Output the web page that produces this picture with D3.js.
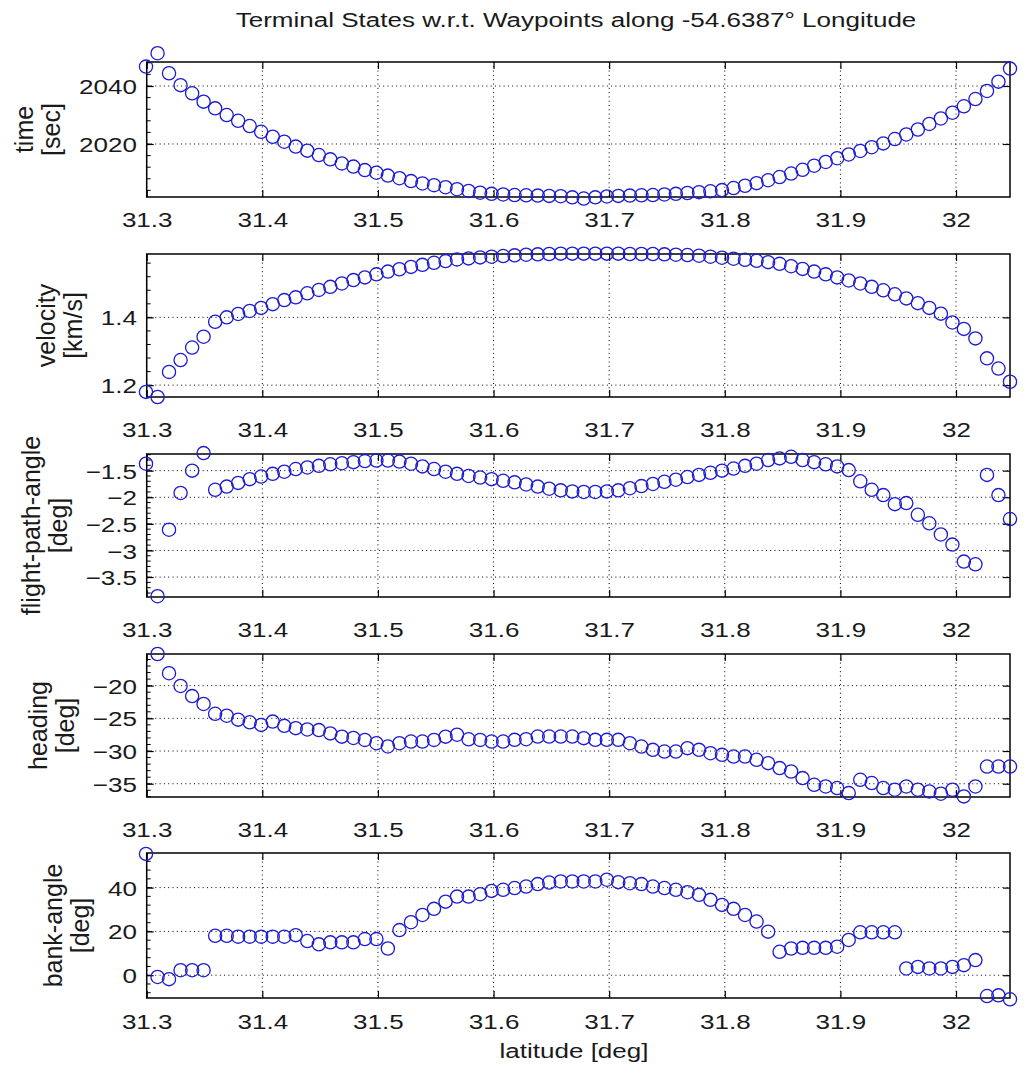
<!DOCTYPE html>
<html>
<head>
<meta charset="utf-8">
<script src="https://cdn.jsdelivr.net/npm/d3@7"></script>
<style>
  body { margin: 0; background: #fff; }
  text { font-family: "Liberation Sans", Arial, sans-serif; fill: #1a1a1a; }
</style>
</head>
<body>
<svg id="chart" width="1024" height="1072"></svg>
<script>
// waypoint latitudes [deg]
const latitude = [
  31.2994, 31.3094, 31.3193, 31.3293, 31.3393, 31.3492, 31.3592, 31.3692, 31.3791, 31.3891,
  31.3990, 31.4090, 31.4190, 31.4289, 31.4389, 31.4489, 31.4588, 31.4688, 31.4788, 31.4887,
  31.4987, 31.5086, 31.5186, 31.5286, 31.5385, 31.5485, 31.5585, 31.5684, 31.5784, 31.5884,
  31.5983, 31.6083, 31.6182, 31.6282, 31.6382, 31.6481, 31.6581, 31.6681, 31.6780, 31.6880,
  31.6980, 31.7079, 31.7179, 31.7279, 31.7378, 31.7478, 31.7577, 31.7677, 31.7777, 31.7876,
  31.7976, 31.8076, 31.8175, 31.8275, 31.8375, 31.8474, 31.8574, 31.8673, 31.8773, 31.8873,
  31.8972, 31.9072, 31.9172, 31.9271, 31.9371, 31.9471, 31.9570, 31.9670, 31.9769, 31.9869,
  31.9969, 32.0068, 32.0168, 32.0268, 32.0367, 32.0467
];

const timeSec = [
  2046.7, 2051.3, 2044.4, 2040.3, 2037.5, 2034.6, 2032.3, 2030.0, 2028.0, 2026.2,
  2024.2, 2022.5, 2020.8, 2019.1, 2017.7, 2016.2, 2014.7, 2013.3, 2012.2, 2011.0,
  2010.1, 2009.1, 2008.2, 2007.2, 2006.4, 2005.8, 2005.1, 2004.4, 2003.8, 2003.2,
  2002.8, 2002.6, 2002.4, 2002.3, 2002.2, 2002.1, 2002.0, 2001.6, 2001.2, 2001.6,
  2001.9, 2002.1, 2002.2, 2002.3, 2002.4, 2002.6, 2002.8, 2003.1, 2003.4, 2003.7,
  2004.1, 2004.8, 2005.6, 2006.5, 2007.5, 2008.6, 2009.8, 2011.1, 2012.5, 2013.8,
  2015.1, 2016.4, 2017.6, 2018.9, 2020.2, 2021.7, 2023.3, 2025.0, 2026.9, 2028.8,
  2030.8, 2033.0, 2035.5, 2038.3, 2041.5, 2046.0
];

const velocity = [
  1.180, 1.165, 1.239, 1.274, 1.311, 1.343, 1.387, 1.400, 1.410, 1.419,
  1.428, 1.439, 1.451, 1.459, 1.471, 1.481, 1.490, 1.500, 1.510, 1.518,
  1.527, 1.535, 1.542, 1.549, 1.555, 1.561, 1.566, 1.571, 1.574, 1.577,
  1.579, 1.581, 1.583, 1.585, 1.586, 1.587, 1.588, 1.588, 1.588, 1.588,
  1.588, 1.588, 1.587, 1.587, 1.587, 1.586, 1.585, 1.584, 1.582, 1.579,
  1.576, 1.573, 1.570, 1.567, 1.563, 1.558, 1.551, 1.543, 1.535, 1.527,
  1.518, 1.509, 1.500, 1.490, 1.480, 1.468, 1.456, 1.442, 1.428, 1.411,
  1.385, 1.366, 1.338, 1.279, 1.249, 1.210
];

const flightPathAngle = [
  -1.37, -3.86, -2.61, -1.92, -1.50, -1.17, -1.86, -1.80, -1.73, -1.66,
  -1.61, -1.56, -1.52, -1.47, -1.44, -1.41, -1.38, -1.36, -1.34, -1.32,
  -1.31, -1.31, -1.33, -1.37, -1.42, -1.47, -1.52, -1.56, -1.60, -1.63,
  -1.66, -1.69, -1.72, -1.76, -1.80, -1.84, -1.87, -1.89, -1.90, -1.90,
  -1.89, -1.87, -1.83, -1.79, -1.75, -1.71, -1.67, -1.62, -1.58, -1.54,
  -1.50, -1.46, -1.41, -1.37, -1.30, -1.27, -1.24, -1.30, -1.34, -1.38,
  -1.42, -1.49, -1.70, -1.86, -1.96, -2.13, -2.11, -2.33, -2.49, -2.70,
  -2.89, -3.21, -3.26, -1.58, -1.96, -2.41
];

const heading = [
  null, -15.16, -18.1, -20.05, -21.6, -22.8, -24.3, -24.6, -25.2, -25.6,
  -26.0, -25.5, -26.15, -26.5, -26.7, -26.8, -27.3, -27.8, -28.0, -28.3,
  -28.8, -29.3, -28.8, -28.55, -28.55, -28.3, -27.8, -27.5, -28.2, -28.3,
  -28.55, -28.55, -28.29, -28.19, -27.78, -27.78, -27.78, -27.78, -28.03, -28.29,
  -28.29, -28.29, -28.8, -29.31, -29.82, -30.08, -30.08, -29.56, -29.82, -30.33,
  -30.58, -30.84, -30.84, -31.34, -31.85, -32.61, -33.13, -34.14, -35.16, -35.42,
  -35.66, -36.43, -34.4, -34.9, -35.66, -35.92, -35.42, -35.92, -36.17, -36.53,
  -35.92, -36.94, -35.42, -32.37, -32.37, -32.37
];

const bankAngle = [
  55.4, -0.8, -1.8, 2.3, 2.3, 2.3, 18.0, 18.0, 17.6, 17.6,
  17.6, 17.6, 17.6, 18.3, 15.6, 14.1, 15.0, 15.0, 15.0, 16.5,
  16.5, 12.2, 20.6, 24.2, 27.5, 30.3, 33.6, 35.9, 35.9, 37.0,
  38.5, 39.0, 39.8, 40.5, 41.6, 42.3, 42.8, 42.8, 42.8, 42.8,
  43.6, 42.5, 42.0, 41.6, 40.5, 39.8, 39.0, 37.9, 36.7, 34.4,
  32.1, 30.3, 27.5, 24.5, 19.9, 10.7, 12.2, 12.5, 12.5, 12.5,
  13.0, 16.1, 19.6, 19.6, 19.6, 19.6, 3.1, 3.8, 3.1, 3.1,
  3.8, 4.6, 6.9, -9.5, -9.2, -11.0
];

// ticks and axis limits
const latTicks = [31.3, 31.4, 31.5, 31.6, 31.7, 31.8, 31.9, 32.0];
const latLimits = [31.3, 32.0467];
const timeTicks = [2020, 2040];
const timeLimits = [2001.72, 2048.28];
const velocityTicks = [1.2, 1.4];
const velocityLimits = [1.165, 1.587];
const fpaTicks = [-3.5, -3, -2.5, -2, -1.5];
const fpaLimits = [-3.875, -1.187];
const headingTicks = [-35, -30, -25, -20];
const headingLimits = [-37.03, -15.16];
const bankTicks = [0, 20, 40];
const bankLimits = [-10.4, 55.8];

const panels = [
  { values: timeSec, ticks: timeTicks, limits: timeLimits, label: ["time", "[sec]"], top: 62, bottom: 197, labelBase: 227 },
  { values: velocity, ticks: velocityTicks, limits: velocityLimits, label: ["velocity", "[km/s]"], top: 254, bottom: 397, labelBase: 437 },
  { values: flightPathAngle, ticks: fpaTicks, limits: fpaLimits, label: ["flight-path-angle", "[deg]"], top: 454, bottom: 597, labelBase: 637 },
  { values: heading, ticks: headingTicks, limits: headingLimits, label: ["heading", "[deg]"], top: 654, bottom: 797, labelBase: 837 },
  { values: bankAngle, ticks: bankTicks, limits: bankLimits, label: ["bank-angle", "[deg]"], top: 853, bottom: 998, labelBase: 1029 }
];

const left = 146.7, right = 1010;
const sx = 1.24;       // horizontal stretch of the upright text
const fontSize = 21;
const markerColor = "#1c1cd2";

const svg = d3.select("#chart");
const x = d3.scaleLinear().domain(latLimits).range([left, right]);
const fmt = d => d3.format("~g")(d);

svg.append("text")
   .attr("transform", `translate(576,27) scale(${sx},1)`)
   .attr("text-anchor", "middle")
   .style("font-size", fontSize + "px")
   .text("Terminal States w.r.t. Waypoints along -54.6387° Longitude");

panels.forEach(p => {
  const y = d3.scaleLinear().domain(p.limits).range([p.bottom, p.top]);
  const g = svg.append("g");

  // dotted grid
  g.selectAll(".gx").data(latTicks).enter().append("line")
   .attr("x1", d => x(d)).attr("x2", d => x(d))
   .attr("y1", p.top).attr("y2", p.bottom)
   .attr("stroke", "#000").attr("stroke-width", 1).attr("stroke-dasharray", "1,3.3");
  g.selectAll(".gy").data(p.ticks).enter().append("line")
   .attr("x1", left).attr("x2", right)
   .attr("y1", d => y(d)).attr("y2", d => y(d))
   .attr("stroke", "#000").attr("stroke-width", 1).attr("stroke-dasharray", "1,3.3");

  // axes with inward ticks
  const bottomAxis = g.append("g").attr("transform", `translate(0,${p.bottom})`)
    .call(d3.axisBottom(x).tickValues(latTicks).tickSize(-7).tickFormat(fmt));
  bottomAxis.selectAll("text")
    .attr("y", p.labelBase - p.bottom).attr("dy", null)
    .attr("transform", `scale(${sx},1)`);
  g.append("g").attr("transform", `translate(0,${p.top})`)
    .call(d3.axisTop(x).tickValues(latTicks).tickSize(-7).tickFormat(""));

  const leftAxis = g.append("g").attr("transform", `translate(${left},0)`)
    .call(d3.axisLeft(y).tickValues(p.ticks).tickSize(-7).tickFormat(fmt));
  leftAxis.selectAll("text")
    .attr("x", -9.7 / sx).attr("dy", "0.36em")
    .attr("transform", `scale(${sx},1)`);
  g.append("g").attr("transform", `translate(${right},0)`)
    .call(d3.axisRight(y).tickValues(p.ticks).tickSize(-7).tickFormat(""));

  // minor ticks on the left axis
  const step = (p.ticks[1] - p.ticks[0]) / 5;
  const minor = d3.range(Math.ceil(p.limits[0] / step), Math.floor(p.limits[1] / step) + 1)
    .map(k => k * step);
  g.selectAll(".minor").data(minor).enter().append("line")
   .attr("x1", left).attr("x2", left + 4)
   .attr("y1", d => y(d)).attr("y2", d => y(d))
   .attr("stroke", "#000").attr("stroke-width", 1);

  [bottomAxis, leftAxis].forEach(a => a.selectAll("text")
     .style("font-size", fontSize + "px").style("font-family", '"Liberation Sans", Arial, sans-serif')
     .attr("fill", "#1a1a1a"));
  g.selectAll(".domain").remove();
  g.selectAll(".tick line").attr("stroke", "#000").attr("stroke-width", 1.2);

  // frame
  g.append("rect")
   .attr("x", left).attr("y", p.top)
   .attr("width", right - left).attr("height", p.bottom - p.top)
   .attr("fill", "none").attr("stroke", "#000").attr("stroke-width", 1.5);

  // y label, two lines, placed left of the widest tick label
  const widest = d3.max(leftAxis.selectAll("text").nodes(), n => n.getComputedTextLength() * sx);
  const base2 = left - 9.7 - widest - 19;
  const cy = (p.top + p.bottom) / 2;
  [p.label[0], p.label[1]].forEach((t, k) => {
    svg.append("text")
       .attr("transform", `translate(${k === 0 ? base2 - 27 : base2},${cy}) rotate(-90)`)
       .attr("text-anchor", "middle")
       .style("font-size", "25px")
       .text(t);
  });

  // markers
  const pts = latitude.map((lat, i) => ({ lat, v: p.values[i] })).filter(d => d.v !== null);
  g.selectAll("circle").data(pts).enter().append("circle")
   .attr("cx", d => x(d.lat))
   .attr("cy", d => y(d.v))
   .attr("r", 6.6)
   .attr("fill", "none")
   .attr("stroke", markerColor)
   .attr("stroke-width", 1.3);
});

svg.append("text")
   .attr("transform", `translate(574,1058) scale(${sx},1)`)
   .attr("text-anchor", "middle")
   .style("font-size", fontSize + "px")
   .text("latitude [deg]");
</script>
</body>
</html>
